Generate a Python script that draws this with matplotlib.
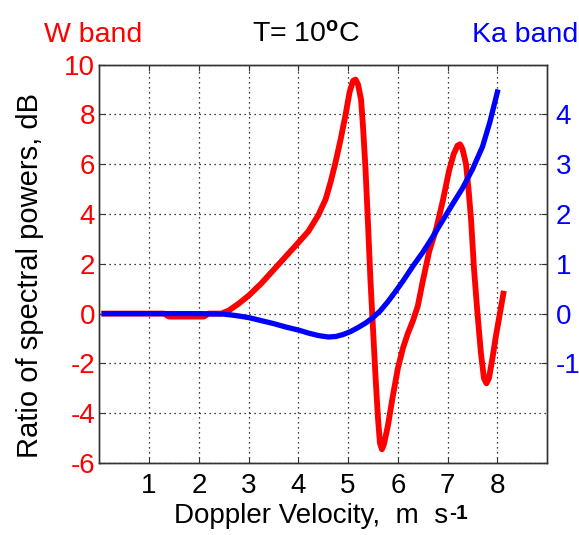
import matplotlib
matplotlib.use("Agg")
import matplotlib.pyplot as plt

plt.rcParams['font.family'] = ['Liberation Sans', 'DejaVu Sans']
plt.rcParams['mathtext.fontset'] = 'custom'
plt.rcParams['mathtext.rm'] = 'Liberation Sans'
plt.rcParams['mathtext.it'] = 'Liberation Sans:italic'
plt.rcParams['mathtext.bf'] = 'Liberation Sans:bold'
plt.rcParams['axes.unicode_minus'] = False

# W band (left axis, dB)
w_x = [0.1, 1.3, 1.4, 2.1, 2.2, 2.45, 2.6, 2.8, 3.0, 3.25, 3.5, 3.75, 4.0, 4.2,
       4.4, 4.55, 4.65, 4.75, 4.85, 4.95, 5.03, 5.1, 5.15, 5.2, 5.26, 5.3, 5.35,
       5.4, 5.45, 5.5, 5.55, 5.6, 5.64, 5.68, 5.72, 5.8, 5.9, 6.0, 6.1, 6.2,
       6.3, 6.4, 6.5, 6.63, 6.77, 6.9, 7.03, 7.12, 7.2, 7.25, 7.3, 7.37, 7.42,
       7.47, 7.53, 7.6, 7.67, 7.73, 7.78, 7.83, 7.9, 7.97, 8.05, 8.12]
w_y = [0.0, 0.0, -0.12, -0.12, 0.0, 0.0, 0.12, 0.4, 0.72, 1.2, 1.75, 2.3, 2.85, 3.3,
       3.95, 4.6, 5.3, 6.1, 7.0, 8.0, 8.9, 9.35, 9.4, 9.2, 8.6, 7.5, 5.8,
       3.6, 1.3, -0.6, -2.5, -4.2, -5.2, -5.45, -5.25, -4.5, -3.3, -2.2, -1.4, -0.8,
       -0.3, 0.3, 1.3, 2.5, 3.4, 4.5, 5.75, 6.4, 6.75, 6.8, 6.6, 6.0, 5.0,
       3.8, 1.8, 0.0, -1.6, -2.6, -2.8, -2.6, -1.8, -0.9, 0.0, 0.8]

# Ka band (right axis)
ka_x = [0.1, 1.0, 2.0, 2.5, 2.75, 3.0, 3.25, 3.5, 3.75, 4.0, 4.2, 4.4, 4.6, 4.75,
        4.9, 5.05, 5.2, 5.35, 5.5, 5.65, 5.8, 5.95, 6.1, 6.3, 6.5, 6.7, 6.9,
        7.1, 7.3, 7.5, 7.7, 7.85, 8.0]
ka_y = [0.0, 0.0, 0.0, -0.01, -0.04, -0.08, -0.14, -0.2, -0.27, -0.33, -0.39, -0.44,
        -0.47, -0.46, -0.42, -0.36, -0.28, -0.19, -0.08, 0.06, 0.24, 0.44, 0.65,
        0.95, 1.23, 1.54, 1.87, 2.2, 2.52, 2.9, 3.35, 3.85, 4.45]

x_ticks = [1, 2, 3, 4, 5, 6, 7, 8]
left_ticks = [-6, -4, -2, 0, 2, 4, 6, 8, 10]
right_ticks = [-1, 0, 1, 2, 3, 4]

RED = '#ff0000'
BLUE = '#0000ff'
SPINE = '#333333'

fig = plt.figure(figsize=(5.79, 5.35), dpi=100)
ax = fig.add_axes([0.1715, 0.1346, 0.7735, 0.7446])
ax2 = ax.twinx()

ax.plot(w_x, w_y, color=RED, lw=4.2, solid_joinstyle='round', zorder=3)
ax2.plot(ka_x, ka_y, color=BLUE, lw=3.8, solid_joinstyle='round', zorder=3)

ax.set_xlim(0, 9)
ax.set_ylim(-6, 10)
ax2.set_ylim(-3, 5)

ax.set_xticks(x_ticks)
ax.set_yticks(left_ticks)
ax2.set_yticks(right_ticks)

ax.grid(True, color='black', linestyle=(0, (1, 3)), linewidth=0.9)

fs = 20
ax.tick_params(axis='x', direction='in', length=4, width=0.8, colors=SPINE,
               labelcolor='black', labelsize=fs, pad=7, top=True)
ax.tick_params(axis='y', direction='in', length=4, width=0.8, colors=SPINE,
               labelcolor=RED, labelsize=fs, pad=3)
ax2.tick_params(axis='y', direction='in', length=4, width=0.8, colors=SPINE,
                labelcolor=BLUE, labelsize=fs, pad=6)

for a in (ax, ax2):
    for s in a.spines.values():
        s.set_color(SPINE)
        s.set_linewidth(1.0)

ax.set_ylabel('Ratio of spectral powers, dB', fontsize=21, color='black')
ax.yaxis.set_label_coords(-0.1235, 0.47)
ax.set_xlabel('Doppler Velocity,  m  s', fontsize=fs, color='black')
ax.xaxis.set_label_coords(0.473, -0.10)
ax.annotate('-1', xy=(1, 1), xycoords=ax.xaxis.label, xytext=(1, -1),
            textcoords='offset points', ha='left', va='top',
            fontsize=15, fontweight='bold', color='black')

fig.text(0.161, 0.922, 'W band', color=RED, fontsize=20.5, ha='center', va='baseline')
fig.text(0.528, 0.922, r'T= 10$^{\mathbf{o}}$C', color='black', fontsize=20.5,
         ha='center', va='baseline')
fig.text(0.907, 0.922, 'Ka band', color=BLUE, fontsize=20.5, ha='center', va='baseline')

fig.savefig('out.png', dpi=100)
